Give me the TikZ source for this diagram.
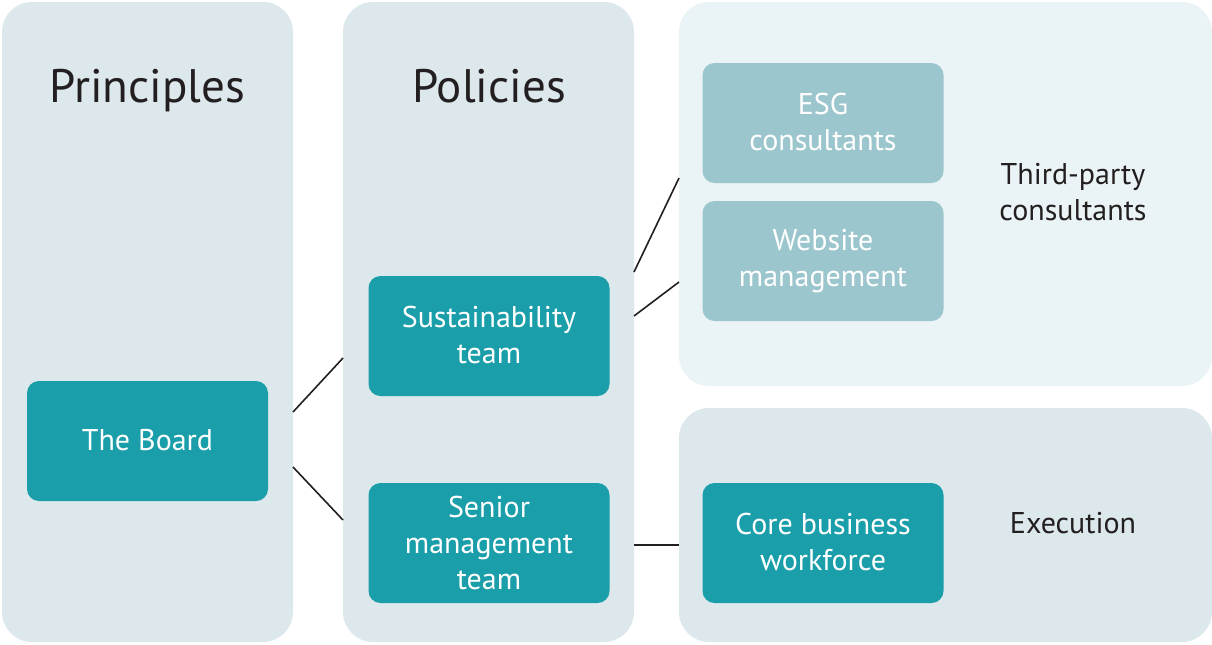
\documentclass[tikz,border=0pt]{standalone}
\usepackage{fontspec}
\setmainfont{PT Sans}
\definecolor{panel}{HTML}{DCE8EC}
\definecolor{panellight}{HTML}{EAF3F5}
\definecolor{teal}{HTML}{1A9EA9}
\definecolor{tealsoft}{HTML}{9CC6CD}
\definecolor{ink}{HTML}{231F20}
\tikzset{
  panelbox/.style={fill=panel, draw=none, rounded corners=15pt, inner sep=0pt},
  dark/.style={fill=teal, draw=none, rounded corners=6pt, text=white, minimum width=120.5pt, minimum height=60pt, align=center, font=\fontsize{15}{18}\selectfont, inner sep=0pt},
  soft/.style={dark, fill=tealsoft},
  heading/.style={text=ink, font=\fontsize{23.5}{28}\selectfont, anchor=base},
  side/.style={text=ink, align=center, font=\fontsize{15}{18}\selectfont},
  link/.style={draw=ink, line width=0.8pt}
}
\begin{document}
\begin{tikzpicture}[x=0.5pt,y=-0.5pt]
\useasboundingbox (0,0) rectangle (1212,644);
% panels
\node[panelbox, minimum width=145.5pt, minimum height=320pt] (prin) at (147.5,322) {};
\node[panelbox, minimum width=145.5pt, minimum height=320pt] (poli) at (488.5,322) {};
\node[panelbox, fill=panellight, minimum width=266.5pt, minimum height=192pt] (third) at (945.5,194) {};
\node[panelbox, minimum width=266.5pt, minimum height=117pt] (exec) at (945.5,525) {};
% headings
\node[heading] (hprin) at (147.5,102) {Principles};
\node[heading] (hpoli) at (489,102) {Policies};
% boxes
\node[dark] (board) at (147.5,441) {\raisebox{1pt}{The Board}};
\node[dark] (sust) at (489,336) {\raisebox{1pt}{Sustainability}\\\raisebox{1pt}{team}};
\node[dark] (senior) at (489,543) {Senior\\management\\team};
\node[soft] (esg) at (823,123) {\raisebox{1pt}{ESG}\\\raisebox{1pt}{consultants}};
\node[soft] (web) at (823,261) {Website\\management};
\node[dark] (core) at (823,543) {\raisebox{1pt}{Core business}\\\raisebox{1pt}{workforce}};
% side labels
\node[side] (ltp) at (1073,192) {Third-party\\consultants};
\node[side] (lex) at (1073,523) {Execution};
% connector end points on panel edges
\coordinate (b1) at (293,412);
\coordinate (s1) at (343,358);
\coordinate (b2) at (293,467);
\coordinate (m1) at (343,520);
\coordinate (s2) at (634,272);
\coordinate (e1) at (679,178);
\coordinate (s3) at (634,316);
\coordinate (w1) at (679,282);
\coordinate (m2) at (634,545);
\coordinate (c1) at (679,545);
\draw[link] (b1) -- (s1);
\draw[link] (b2) -- (m1);
\draw[link] (s2) -- (e1);
\draw[link] (s3) -- (w1);
\draw[link] (m2) -- (c1);
\end{tikzpicture}
\end{document}
